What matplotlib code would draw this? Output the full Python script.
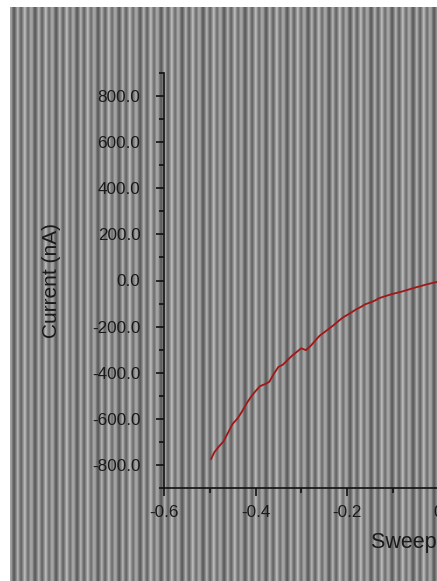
import numpy as np
import matplotlib
matplotlib.use("Agg")
import matplotlib.pyplot as plt
from matplotlib.ticker import MultipleLocator, FuncFormatter

plt.rcParams['font.family'] = ['Liberation Sans', 'DejaVu Sans']
plt.rcParams['axes.unicode_minus'] = False

# Data
voltage = [-0.497, -0.49, -0.48, -0.47, -0.46, -0.45, -0.44, -0.43, -0.42, -0.41,
           -0.40, -0.39, -0.38, -0.37, -0.36, -0.35, -0.34, -0.33, -0.32, -0.31,
           -0.30, -0.29, -0.28, -0.27, -0.26, -0.25, -0.24, -0.23, -0.22, -0.21,
           -0.20, -0.19, -0.18, -0.17, -0.16, -0.15, -0.14, -0.13, -0.12, -0.11,
           -0.10, -0.09, -0.08, -0.07, -0.06, -0.05, -0.04, -0.03, -0.02, -0.01, 0.0]
current = [-774, -745, -720, -698, -660, -622, -600, -570, -535, -505,
           -480, -458, -450, -440, -405, -375, -365, -345, -326, -310,
           -294, -302, -285, -262, -240, -225, -210, -195, -178, -162,
           -150, -138, -125, -115, -103, -96, -88, -77, -70, -64,
           -58, -53, -48, -42, -36, -30, -25, -19, -14, -9, -5]

W, H = 437, 581
fig = plt.figure(figsize=(W / 100, H / 100), dpi=100, facecolor='white')

# striped background (decoration)
bg = fig.add_axes([10 / W, 0, (W - 10) / W, (H - 7) / H])
bg.set_axis_off()
pattern = np.array([0.68, 0.63, 0.52, 0.43, 0.41, 0.50, 0.60])
ncol = W - 10
row = np.array([pattern[i % len(pattern)] for i in range(ncol)])
row = row + 0.04 * np.array([((i // 7) % 3) - 1 for i in range(ncol)])
bg.imshow(row[None, :], cmap='gray', vmin=0, vmax=1, aspect='auto',
          interpolation='nearest', extent=[0, 1, 0, 1])
bg.set_xlim(0, 1)
bg.set_ylim(0, 1)

# main axes: pixel left 164, right 713, bottom 488, top 73
left, right, top, bottom = 164, 713, 73, 488
ax = fig.add_axes([left / W, (H - bottom) / H, (right - left) / W, (bottom - top) / H])
ax.patch.set_alpha(0)
ax.plot(voltage, current, color='#a01818', lw=1.3)

ax.set_xlim(-0.6, 0.6)
ax.set_ylim(-900, 900)
for s in ['top', 'right']:
    ax.spines[s].set_visible(False)
for s in ['left', 'bottom']:
    ax.spines[s].set_linewidth(1.2)
    ax.spines[s].set_color('#111111')

ax.xaxis.set_major_locator(MultipleLocator(0.2))
ax.xaxis.set_minor_locator(MultipleLocator(0.1))
ax.yaxis.set_major_locator(MultipleLocator(200))
ax.yaxis.set_minor_locator(MultipleLocator(100))
ax.xaxis.set_major_formatter(FuncFormatter(lambda v, p: '%g' % round(v, 6)))
ax.yaxis.set_major_formatter(FuncFormatter(lambda v, p: '%.1f' % v))

ax.tick_params(axis='both', which='major', direction='out', length=6, width=1.2,
               color='#111111', labelsize=12.3, labelcolor='#1a1a1a')
ax.tick_params(axis='both', which='minor', direction='out', length=3.5, width=1.2,
               color='#111111')
ax.tick_params(axis='y', which='major', pad=11)
ax.tick_params(axis='x', which='major', pad=6)

ax.set_ylabel('Current (nA)', fontsize=15, color='#1a1a1a')
ax.yaxis.set_label_coords(-0.188, 0.5)
ax.set_xlabel('Sweep Voltage (V)', fontsize=15.5, color='#1a1a1a', va='top', ha='left')
ax.xaxis.set_label_coords((371 - left) / (right - left), -0.105)

fig.savefig('out.png', dpi=100, facecolor='white')
